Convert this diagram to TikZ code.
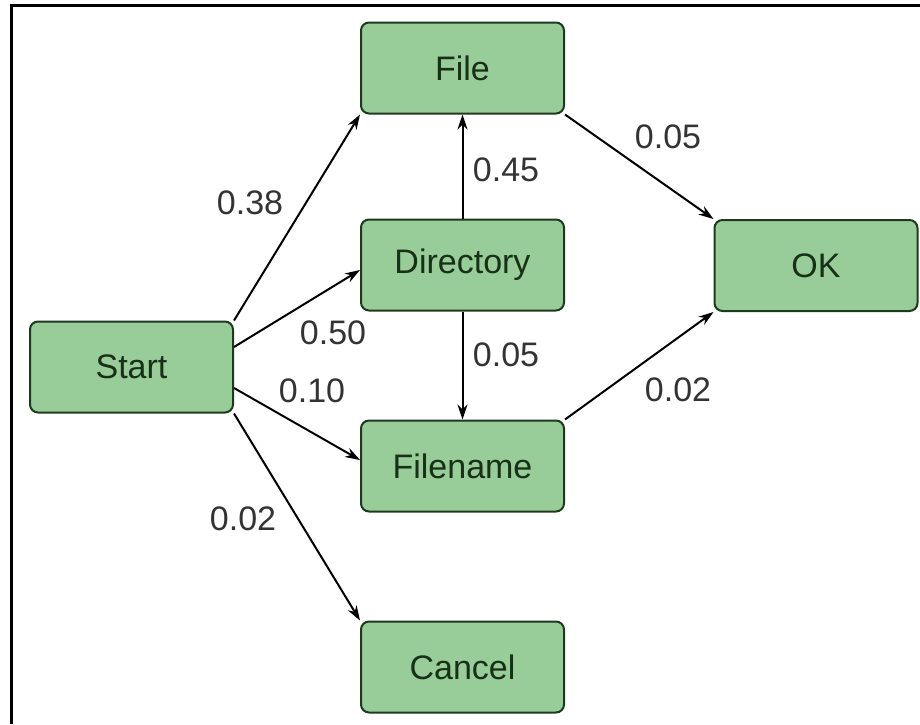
\documentclass[tikz,border=0pt]{standalone}
\usepackage{fontspec}
\setmainfont{Liberation Sans}
\usetikzlibrary{arrows.meta}
\definecolor{boxfill}{HTML}{98CC98}
\definecolor{boxline}{HTML}{1E3A1E}
\definecolor{boxtext}{HTML}{173017}
\definecolor{labtext}{HTML}{333333}
\tikzset{
  state/.style={draw=boxline, line width=2pt, fill=boxfill, rounded corners=8pt,
    minimum width=203pt, minimum height=91pt, inner sep=0pt, text=boxtext,
    font=\fontsize{34}{40}\selectfont},
  link/.style={draw=black, line width=2pt, -{Stealth[length=15pt,width=10pt]}},
  prob/.style={text=labtext, font=\fontsize{34}{40}\selectfont, inner sep=0pt},
  frameline/.style={draw=black, line width=3pt}
}
\begin{document}
\begin{tikzpicture}[x=1pt,y=-1pt]
\useasboundingbox (0,0) rectangle (920,724);
\coordinate (fa) at (920,5);
\coordinate (fb) at (11,5);
\coordinate (fc) at (11,724);
\draw[frameline] (fa) -- (fb) -- (fc);

\node[state] (File) at (462.5,68) {File};
\node[state] (Dir) at (462.5,265) {Directory};
\node[state] (Fname) at (462.5,466) {Filename};
\node[state] (Cancel) at (462.5,667) {Cancel};
\node[state] (Start) at (131.5,367) {Start};
\node[state] (OK) at (816,265.5) {OK};

\draw[link] (Start.north east) -- (File.south west);
\draw[link] ([yshift=20pt]Start.east) -- ([yshift=-5pt]Dir.west);
\draw[link] ([yshift=-21pt]Start.east) -- ([yshift=6pt]Fname.west);
\draw[link] (Start.south east) -- (Cancel.north west);
\draw[link] (Dir.north) -- (File.south);
\draw[link] (Dir.south) -- (Fname.north);
\draw[link] (File.south east) -- (OK.north west);
\draw[link] (Fname.north east) -- (OK.south west);

\node[prob] (p38) at (250,203) {0.38};
\node[prob] (p50) at (333,333) {0.50};
\node[prob] (p10) at (312,391) {0.10};
\node[prob] (p02a) at (243,519) {0.02};
\node[prob] (p45) at (506,170) {0.45};
\node[prob] (p05a) at (506,355) {0.05};
\node[prob] (p05b) at (668,137) {0.05};
\node[prob] (p02b) at (678,390) {0.02};
\end{tikzpicture}
\end{document}
